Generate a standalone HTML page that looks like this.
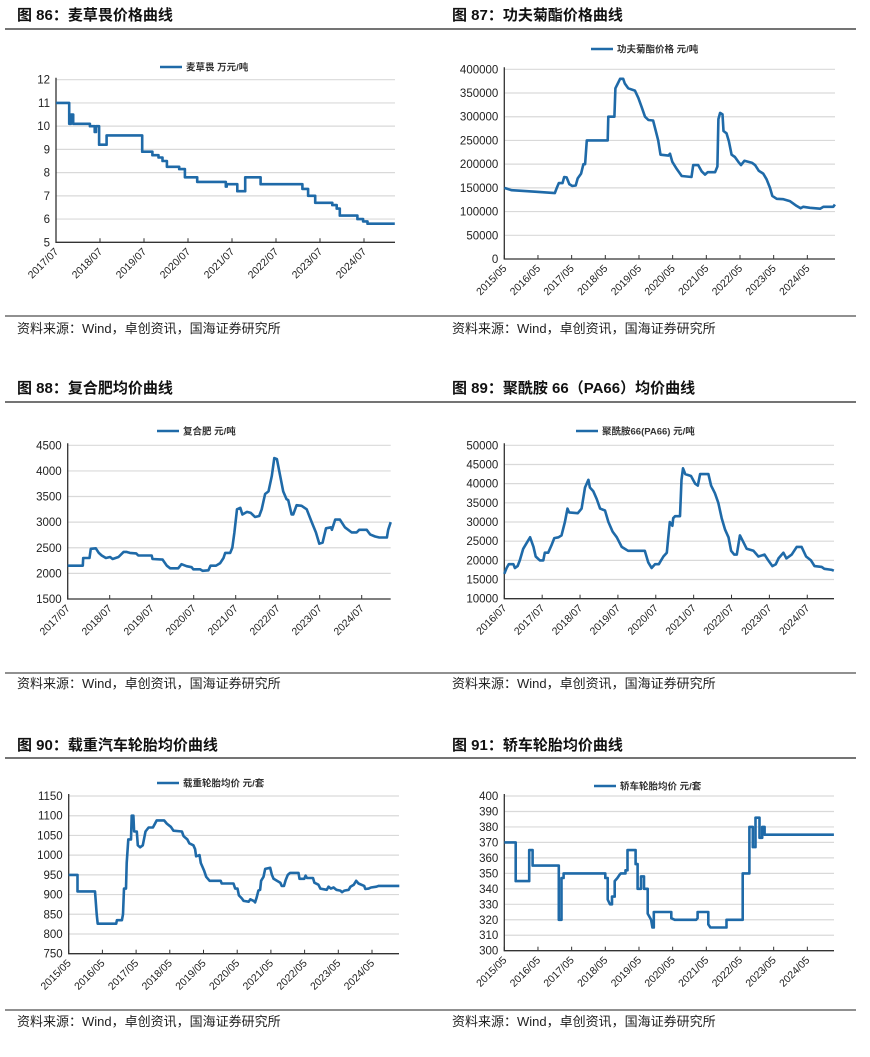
<!DOCTYPE html>
<html><head><meta charset="utf-8">
<style>
html,body{margin:0;padding:0;background:#fff;}
body{width:870px;height:1057px;overflow:hidden;font-family:"Liberation Sans","Noto Sans CJK SC",sans-serif;}
svg{position:absolute;left:0;top:0;}
</style></head>
<body>
<svg id="page" width="870" height="1057" xmlns="http://www.w3.org/2000/svg"></svg>
<script>
// ---------- data (t = years since first x tick) ----------
const c86Ticks = ["2017/07","2018/07","2019/07","2020/07","2021/07","2022/07","2023/07","2024/07"];
const c86Y = [5,6,7,8,9,10,11,12];
// step-after series: value holds from each t until the next t
const c86T = [0,.3,.34,.39,.77,.88,.91,.98,1.15,1.96,2.19,2.33,2.42,2.52,2.8,2.93,3.21,3.86,3.88,4.12,4.3,4.65,5.6,5.73,5.89,6.28,6.38,6.45,6.85,6.98,7.08,7.7];
const c86V = [11,10.1,10.5,10.1,10.0,9.75,10.0,9.2,9.6,8.9,8.75,8.65,8.5,8.25,8.15,7.8,7.6,7.4,7.5,7.2,7.8,7.5,7.3,7.0,6.7,6.6,6.45,6.15,6.0,5.9,5.8,5.8];

const c87Ticks = ["2015/05","2016/05","2017/05","2018/05","2019/05","2020/05","2021/05","2022/05","2023/05","2024/05"];
const c87Y = [0,50000,100000,150000,200000,250000,300000,350000,400000];
const c87T = [0,.22,.91,1.5,1.56,1.62,1.73,1.78,1.85,1.93,2.02,2.12,2.18,2.28,2.35,2.4,2.45,3.07,3.09,3.27,3.3,3.37,3.44,3.53,3.58,3.68,3.88,3.98,4.08,4.18,4.28,4.42,4.5,4.57,4.64,4.87,4.92,4.99,5.12,5.27,5.56,5.61,5.76,5.86,5.96,6.04,6.26,6.33,6.36,6.41,6.48,6.51,6.6,6.67,6.75,6.85,6.95,7.03,7.13,7.35,7.45,7.56,7.69,7.79,7.89,7.96,8.09,8.29,8.48,8.68,8.8,8.88,9.08,9.38,9.48,9.77,9.82];
const c87V = [150000,145000,142000,139000,150000,160000,160000,173000,172000,158000,154000,155000,170000,180000,200000,200000,250000,250000,300000,300000,360000,370000,380000,380000,370000,360000,355000,340000,320000,300000,293000,292000,270000,250000,220000,218000,222000,205000,190000,175000,173000,198000,198000,185000,178000,183000,183000,195000,295000,308000,305000,270000,265000,248000,220000,215000,205000,198000,207000,203000,198000,186000,180000,168000,150000,133000,127000,126000,122000,112000,107000,110000,108000,106000,110000,110000,115000];

const c88Ticks = ["2017/07","2018/07","2019/07","2020/07","2021/07","2022/07","2023/07","2024/07"];
const c88Y = [1500,2000,2500,3000,3500,4000,4500];
const c88T = [0,.36,.37,.52,.55,.67,.74,.81,.91,1.01,1.07,1.21,1.33,1.4,1.48,1.63,1.68,2.0,2.02,2.26,2.36,2.44,2.63,2.71,2.83,2.95,2.99,3.15,3.21,3.35,3.4,3.53,3.63,3.71,3.75,3.87,3.92,3.97,4.03,4.11,4.16,4.27,4.36,4.46,4.56,4.62,4.7,4.78,4.86,4.92,4.98,5.06,5.13,5.21,5.25,5.33,5.37,5.45,5.57,5.69,5.81,5.91,5.99,6.07,6.15,6.27,6.29,6.37,6.48,6.6,6.76,6.88,6.94,7.12,7.2,7.32,7.42,7.6,7.63,7.69];
const c88V = [2150,2150,2300,2300,2480,2490,2400,2350,2300,2320,2280,2320,2420,2420,2400,2390,2350,2350,2280,2270,2150,2100,2100,2180,2140,2120,2080,2080,2050,2060,2150,2150,2200,2300,2400,2400,2500,2800,3250,3280,3150,3200,3180,3100,3120,3250,3550,3600,3900,4250,4230,3900,3600,3450,3430,3150,3150,3330,3320,3250,3000,2800,2580,2600,2880,2900,2850,3050,3050,2900,2800,2800,2850,2850,2760,2720,2700,2700,2850,3000];

const c89Ticks = ["2016/07","2017/07","2018/07","2019/07","2020/07","2021/07","2022/07","2023/07","2024/07"];
const c89Y = [10000,15000,20000,25000,30000,35000,40000,45000,50000];
const c89T = [0,.06,.12,.24,.28,.35,.41,.5,.59,.68,.77,.83,.94,1.03,1.07,1.16,1.25,1.32,1.43,1.51,1.6,1.67,1.71,1.94,2.04,2.13,2.22,2.26,2.35,2.44,2.53,2.66,2.75,2.86,2.97,3.1,3.27,3.71,3.8,3.89,3.98,4.08,4.2,4.29,4.37,4.44,4.46,4.51,4.64,4.68,4.72,4.78,4.93,5.04,5.11,5.17,5.39,5.46,5.56,5.65,5.74,5.83,5.92,5.99,6.07,6.14,6.22,6.3,6.4,6.58,6.71,6.87,6.97,7.08,7.17,7.24,7.37,7.45,7.59,7.72,7.85,7.97,8.1,8.19,8.38,8.45,8.65,8.7];
const c89V = [16500,18000,19000,19000,18000,18500,20000,23000,24500,26000,23500,21000,20000,20000,22000,22000,24000,25800,26000,26500,30000,33500,32500,32300,33500,39000,41000,39000,38000,36000,33500,33000,30000,27500,26000,23500,22500,22500,19500,18000,19000,19000,21000,22000,30000,29000,31000,31500,31500,41000,44000,42500,42000,40000,39500,42500,42500,39500,37500,35000,31000,28000,26000,22500,21500,21500,26500,25000,23000,22500,21000,21500,20000,18500,19000,20500,22000,20500,21500,23500,23500,21000,20000,18500,18300,17800,17500,17300];

const c90Ticks = ["2015/05","2016/05","2017/05","2018/05","2019/05","2020/05","2021/05","2022/05","2023/05","2024/05"];
const c90Y = [750,800,850,900,950,1000,1050,1100,1150];
const c90T = [0,.26,.26,.78,.83,.86,1.41,1.43,1.58,1.61,1.64,1.7,1.72,1.77,1.85,1.87,1.92,1.94,2.02,2.05,2.12,2.2,2.28,2.37,2.5,2.56,2.61,2.83,2.91,3.03,3.11,3.36,3.41,3.52,3.58,3.7,3.75,3.78,3.88,3.92,4.02,4.08,4.18,4.51,4.54,4.89,4.94,5.01,5.05,5.14,5.19,5.34,5.39,5.49,5.53,5.58,5.63,5.68,5.71,5.78,5.83,5.98,6.03,6.08,6.28,6.32,6.39,6.44,6.5,6.57,6.82,6.85,6.99,7.03,7.07,7.25,7.29,7.41,7.47,7.66,7.71,7.78,7.86,7.94,8.06,8.11,8.18,8.31,8.36,8.46,8.53,8.6,8.77,8.8,8.9,8.97,9.13,9.2,9.81];
const c90V = [950,950,908,908,850,826,826,835,835,850,915,915,980,1040,1040,1100,1100,1060,1060,1025,1020,1025,1060,1070,1070,1080,1088,1088,1080,1072,1062,1060,1048,1040,1030,1025,1015,997,1000,980,960,945,935,935,928,928,915,915,898,890,884,882,888,884,880,893,910,912,935,945,965,968,950,940,930,922,922,937,950,955,955,940,940,948,942,942,930,925,915,912,920,915,918,912,910,906,910,912,920,925,935,928,922,914,915,918,920,922,922];

const c91Ticks = ["2015/05","2016/05","2017/05","2018/05","2019/05","2020/05","2021/05","2022/05","2023/05","2024/05"];
const c91Y = [300,310,320,330,340,350,360,370,380,390,400];
const c91T = [0,.34,.34,.74,.74,.84,.84,1.62,1.62,1.7,1.7,1.76,1.76,3.0,3.0,3.07,3.07,3.14,3.2,3.2,3.28,3.28,3.36,3.42,3.46,3.6,3.6,3.66,3.66,3.9,3.9,3.96,3.96,4.06,4.06,4.15,4.15,4.26,4.26,4.36,4.4,4.44,4.44,4.96,4.96,5.06,5.7,5.74,5.74,6.06,6.06,6.12,6.6,6.6,7.08,7.08,7.28,7.28,7.38,7.38,7.46,7.46,7.58,7.58,7.66,7.66,7.73,7.73,9.79];
const c91V = [370,370,345,345,365,365,355,355,320,320,347,347,350,350,347,347,333,330,330,335,335,345,347,349,350,350,352,352,365,365,356,356,340,340,348,348,340,340,324,320,315,315,325,325,321,320,320,321,325,325,317,315,315,320,320,350,350,380,380,367,367,386,386,373,373,380,380,375,375];

// ---------- drawing ----------
const NS = "http://www.w3.org/2000/svg";
const svg = document.getElementById("page");
function mk(tag, attrs, parent) {
  const e = document.createElementNS(NS, tag);
  for (const k in attrs) e.setAttribute(k, attrs[k]);
  (parent || svg).appendChild(e);
  return e;
}
const LINE = "#1f6aa8";
const FONT = '"Liberation Sans","Noto Sans CJK SC",sans-serif';

function panel(p) {
  const g = mk("g", {});
  
  
  const t = mk("text", {x: p.tx, y: p.ty, "font-size": 15, "font-weight": "bold", fill: "#111", "font-family": FONT}, g);
  t.textContent = p.title;
  
  
  const r1 = mk("line", {x1: p.rx1, x2: p.rx2, y1: p.ruleY, y2: p.ruleY, stroke: "#222", "stroke-width": 1.2}, g);
  
  
  const r2 = mk("line", {x1: p.rx1, x2: p.rx2, y1: p.srcRuleY, y2: p.srcRuleY, stroke: "#222", "stroke-width": 1}, g);
  
  
  const s = mk("text", {x: p.tx, y: p.srcY, "font-size": 13, fill: "#222", "font-family": FONT}, g);
  s.textContent = "资料来源：Wind，卓创资讯，国海证券研究所";
  
  
  const ymin = p.yt[0], ymax = p.yt[p.yt.length - 1];
  const yS = v => p.bottom - (v - ymin) / (ymax - ymin) * (p.bottom - p.top);
  const xS = tv => p.left + tv * p.perYear;
  p.yt.forEach(v => {
    const y = yS(v);
    if (v !== ymin) {
      const gl = mk("line", {x1: p.left, x2: p.right, y1: y, y2: y, stroke: "#d9d9d9", "stroke-width": 1.2}, g);
      
      
    }
    const lb = mk("text", {x: p.left - 6, y: y + 4, "font-size": 11.5, "text-anchor": "end", fill: "#222", "font-family": FONT}, g);
    lb.textContent = v;
    
    
  });
  const ax = mk("path", {d: `M${p.left},${p.top - 2}V${p.bottom}H${p.right}`, fill: "none", stroke: "#333", "stroke-width": 1.3}, g);
  
  
  p.xt.forEach((lab, i) => {
    const x = xS(i);
    const tk = mk("line", {x1: x, x2: x, y1: p.bottom, y2: p.bottom - 4, stroke: "#333", "stroke-width": 1}, g);
    
    
    const tl = mk("text", {x: x + 3, y: p.bottom + 10, "font-size": 10.5, "text-anchor": "end", fill: "#222", "font-family": FONT,
      transform: `rotate(-45 ${x + 3} ${p.bottom + 10})`}, g);
    tl.textContent = lab;
    
    
  });
  let d = "";
  if (p.step) {
    p.T.forEach((tv, i) => {
      const x = xS(tv).toFixed(1);
      if (i === 0) d += "M" + x + "," + yS(p.V[0]).toFixed(1);
      else d += "L" + x + "," + yS(p.V[i - 1]).toFixed(1) + "L" + x + "," + yS(p.V[i]).toFixed(1);
    });
  } else {
    p.T.forEach((tv, i) => { d += (i ? "L" : "M") + xS(tv).toFixed(1) + "," + yS(p.V[i]).toFixed(1); });
  }
  const ln = mk("path", {d: d, fill: "none", stroke: LINE, "stroke-width": 2.6, "stroke-linejoin": "round"}, g);
  
  
  const lg = mk("g", {}, g);
  
  
  mk("line", {x1: p.lx, x2: p.lx + 22, y1: p.ly, y2: p.ly, stroke: LINE, "stroke-width": 2.6}, lg);
  const lt = mk("text", {x: p.lx + 26, y: p.ly + 3.5, "font-size": 9.5, "font-weight": "bold", fill: "#333", "font-family": FONT}, lg);
  lt.textContent = p.legend;
}

panel({name: "chart-86-dicamba", title: "图 86：麦草畏价格曲线", tx: 17, ty: 20, rx1: 5, rx2: 435, ruleY: 29, srcRuleY: 316, srcY: 333,
  left: 56, right: 395, top: 79.7, bottom: 242.3, perYear: 44, yt: c86Y, xt: c86Ticks, T: c86T, V: c86V, step: true,
  lx: 160, ly: 67, legend: "麦草畏  万元/吨"});
panel({name: "chart-87-cyhalothrin", title: "图 87：功夫菊酯价格曲线", tx: 452, ty: 20, rx1: 435, rx2: 856, ruleY: 29, srcRuleY: 316, srcY: 333,
  left: 504.3, right: 835, top: 69.3, bottom: 259, perYear: 33.67, yt: c87Y, xt: c87Ticks, T: c87T, V: c87V,
  lx: 591, ly: 49, legend: "功夫菊酯价格  元/吨"});
panel({name: "chart-88-compound-fertilizer", title: "图 88：复合肥均价曲线", tx: 17, ty: 393, rx1: 5, rx2: 435, ruleY: 402, srcRuleY: 673, srcY: 688,
  left: 67.7, right: 390.7, top: 445.3, bottom: 599, perYear: 42, yt: c88Y, xt: c88Ticks, T: c88T, V: c88V,
  lx: 157, ly: 431, legend: "复合肥   元/吨"});
panel({name: "chart-89-pa66", title: "图 89：聚酰胺 66（PA66）均价曲线", tx: 452, ty: 393, rx1: 435, rx2: 856, ruleY: 402, srcRuleY: 673, srcY: 688,
  left: 504.3, right: 834, top: 445.3, bottom: 598.7, perYear: 37.87, yt: c89Y, xt: c89Ticks, T: c89T, V: c89V,
  lx: 576, ly: 431, legend: "聚酰胺66(PA66)  元/吨"});
panel({name: "chart-90-truck-tire", title: "图 90：载重汽车轮胎均价曲线", tx: 17, ty: 750, rx1: 5, rx2: 435, ruleY: 758, srcRuleY: 1010, srcY: 1026,
  left: 68.7, right: 399, top: 796, bottom: 953.7, perYear: 33.7, yt: c90Y, xt: c90Ticks, T: c90T, V: c90V,
  lx: 157, ly: 783, legend: "载重轮胎均价  元/套"});
panel({name: "chart-91-car-tire", title: "图 91：轿车轮胎均价曲线", tx: 452, ty: 750, rx1: 435, rx2: 856, ruleY: 758, srcRuleY: 1010, srcY: 1026,
  left: 504.3, right: 834, top: 796, bottom: 950.7, perYear: 33.67, yt: c91Y, xt: c91Ticks, T: c91T, V: c91V,
  lx: 594, ly: 786, legend: "轿车轮胎均价  元/套"});
</script>
</body></html>
